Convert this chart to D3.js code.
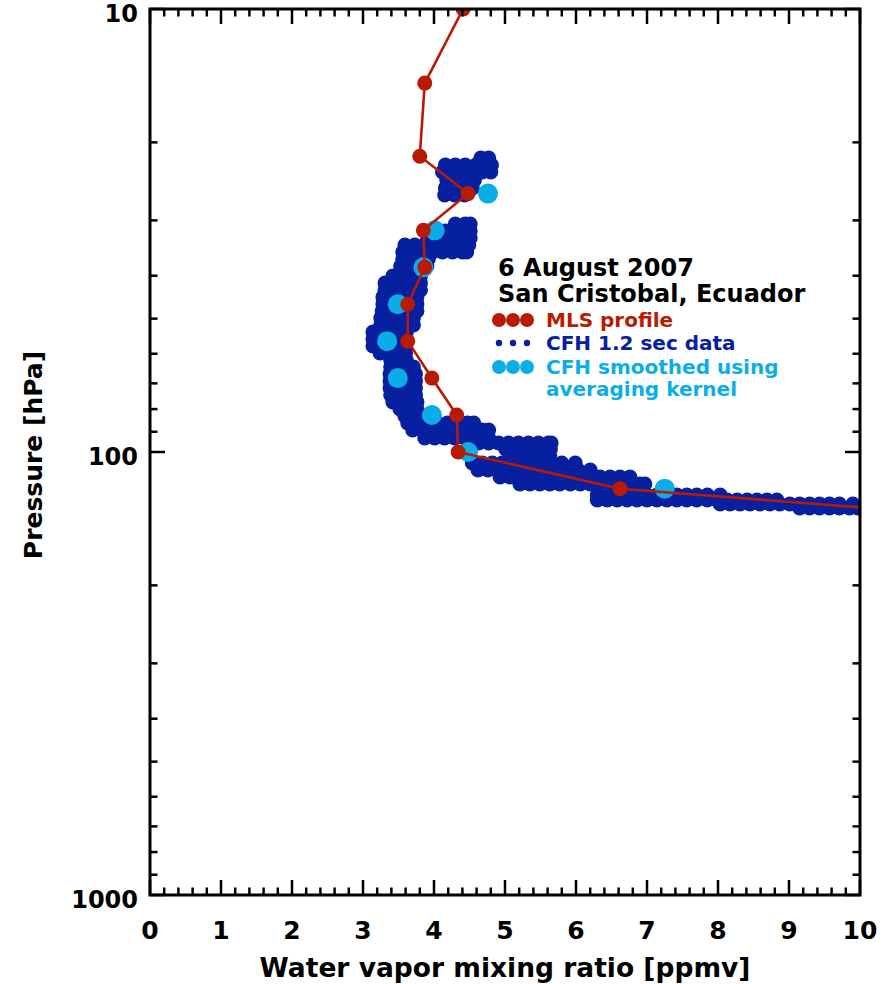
<!DOCTYPE html>
<html>
<head>
<meta charset="utf-8">
<script src="https://cdn.jsdelivr.net/npm/d3@7/dist/d3.min.js"></script>
<style>
  body { margin: 0; background: #fff; }
  text { font-family: "DejaVu Sans", sans-serif; font-weight: bold; }
</style>
</head>
<body>
<svg id="chart" width="891" height="984"></svg>
<script>
// Water vapour profile, 6 August 2007, San Cristobal (Ecuador)

// MLS retrieval levels (hPa) and mixing ratios (ppmv)
const mlsPressure = [10, 14.7, 21.5, 26.1, 31.6, 38.3, 46.4, 56.2, 68.1, 82.5, 100, 121, 147];
const mlsValue    = [4.41, 3.87, 3.80, 4.48, 3.85, 3.87, 3.63, 3.63, 3.97, 4.32, 4.34, 6.62, 13.4];

// CFH profile smoothed with the MLS averaging kernel
const smoothPressure = [26.1, 31.6, 38.3, 46.4, 56.2, 68.1, 82.5, 100, 121];
const smoothValue    = [4.76, 4.01, 3.85, 3.49, 3.34, 3.49, 3.97, 4.48, 7.25];

// CFH 1.2 s soundings: pressure (hPa) with the mixing ratios recorded near it
const cfhRows = [
  [21.70, [4.66, 4.77]],
  [22.50, [4.16, 4.30, 4.44, 4.59, 4.73, 4.81]],
  [23.33, [4.12, 4.26, 4.40, 4.54, 4.68, 4.80]],
  [24.32, [4.18, 4.32, 4.46, 4.57]],
  [25.36, [4.16, 4.30, 4.44, 4.54]],
  [26.30, [4.15, 4.29, 4.43]],
  [30.58, [4.30, 4.44, 4.51]],
  [31.70, [4.02, 4.16, 4.30, 4.44, 4.51]],
  [32.88, [3.91, 4.05, 4.19, 4.33, 4.47, 4.51]],
  [34.10, [3.59, 3.73, 3.87, 4.01, 4.15, 4.29, 4.43, 4.49]],
  [35.37, [3.56, 3.70, 3.84, 3.98, 4.12, 4.26, 4.40, 4.46]],
  [36.67, [3.56, 3.70, 3.84, 3.92]],
  [38.03, [3.53, 3.67, 3.81, 3.90]],
  [40.06, [3.42, 3.56, 3.70, 3.81]],
  [41.55, [3.31, 3.45, 3.59, 3.73, 3.81]],
  [43.09, [3.31, 3.45, 3.59, 3.73, 3.81]],
  [44.68, [3.28, 3.42, 3.56, 3.70, 3.76]],
  [46.34, [3.28, 3.42, 3.56, 3.70, 3.76]],
  [48.05, [3.27, 3.41, 3.55, 3.69, 3.76]],
  [49.83, [3.25, 3.39, 3.53, 3.67, 3.71]],
  [51.68, [3.25, 3.39, 3.53, 3.67, 3.71]],
  [53.59, [3.14, 3.28, 3.42, 3.56, 3.61]],
  [55.58, [3.14, 3.28, 3.42, 3.56, 3.61]],
  [57.64, [3.14, 3.28, 3.42, 3.56, 3.60]],
  [59.77, [3.24, 3.38, 3.52, 3.60]],
  [61.99, [3.39, 3.53, 3.61]],
  [64.29, [3.39, 3.53, 3.67, 3.71]],
  [66.67, [3.38, 3.52, 3.66, 3.74]],
  [69.14, [3.38, 3.52, 3.66, 3.74]],
  [71.70, [3.38, 3.52, 3.66, 3.74]],
  [74.35, [3.39, 3.53, 3.67, 3.74]],
  [77.11, [3.42, 3.56, 3.70, 3.76]],
  [79.97, [3.52, 3.66, 3.76]],
  [82.93, [3.59, 3.73, 3.78]],
  [86.00, [3.63, 3.77, 3.91, 4.05, 4.19, 4.33, 4.47, 4.56]],
  [89.19, [3.70, 3.84, 3.98, 4.12, 4.26, 4.40, 4.54, 4.68, 4.77]],
  [92.98, [3.87, 4.01, 4.15, 4.29, 4.43, 4.57, 4.71, 4.77]],
  [95.43, [4.63, 4.77, 4.91, 5.05, 5.19, 5.33, 5.47, 5.61, 5.65]],
  [98.44, [5.01, 5.15, 5.29, 5.43, 5.57, 5.64]],
  [101.7, [5.07, 5.21, 5.35, 5.49, 5.63]],
  [105.9, [4.54, 4.68, 4.82, 4.96, 5.10, 5.24, 5.38, 5.52, 5.66, 5.80, 5.99]],
  [109.8, [4.62, 4.76, 4.90, 5.04, 5.18, 5.32, 5.46, 5.61, 5.75, 5.89, 6.03, 6.20]],
  [113.9, [4.93, 5.07, 5.21, 5.35, 5.49, 5.63, 5.77, 5.92, 6.06, 6.20, 6.34, 6.48, 6.62, 6.76]],
  [118.1, [5.21, 5.35, 5.49, 5.63, 5.77, 5.92, 6.06, 6.20, 6.34, 6.48, 6.62, 6.76, 6.90, 6.97]],
  [125.1, [6.30, 6.44, 6.58, 6.72, 6.86, 7.00, 7.14, 7.28, 7.42, 7.56, 7.70, 7.85, 8.03]],
  [128.3, [6.30, 6.44, 6.58, 6.72, 6.86, 7.00, 7.14, 7.28, 7.42, 7.56, 7.70, 7.85, 7.99, 8.13, 8.27, 8.41, 8.55, 8.69, 8.83]],
  [131.0, [8.03, 8.17, 8.31, 8.45, 8.59, 8.73, 8.87, 9.01, 9.15, 9.29, 9.43, 9.57, 9.71, 9.90]],
  [133.8, [9.15, 9.29, 9.43, 9.57, 9.71, 9.85, 9.97]]
];

// Axis ticks
const xMajorTicks = [0, 1, 2, 3, 4, 5, 6, 7, 8, 9, 10];
const xMinorTicks = [0.2, 0.4, 0.6, 0.8, 1.2, 1.4, 1.6, 1.8, 2.2, 2.4, 2.6, 2.8, 3.2, 3.4, 3.6, 3.8,
                     4.2, 4.4, 4.6, 4.8, 5.2, 5.4, 5.6, 5.8, 6.2, 6.4, 6.6, 6.8, 7.2, 7.4, 7.6, 7.8,
                     8.2, 8.4, 8.6, 8.8, 9.2, 9.4, 9.6, 9.8];
const yMajorTicks = [10, 100, 1000];
const yTickLabels = ["10", "100", "1000"];
const yMinorTicks = [20, 30, 40, 50, 60, 70, 80, 90, 200, 300, 400, 500, 600, 700, 800, 900];

const titleLines = ["6 August 2007", "San Cristobal, Ecuador"];
const legendLabels = ["MLS profile", "CFH 1.2 sec data", "CFH smoothed using", "averaging kernel"];

const colMLS = "#b81a04";
const colCFH = "#0620a0";
const colSmooth = "#0bade9";

const plotLeft = 150, plotRight = 860, plotTop = 9, plotBottom = 895;
const x = d3.scaleLinear().domain([0, 10]).range([plotLeft, plotRight]);
const y = d3.scaleLog().domain([10, 1000]).range([plotTop, plotBottom]);

const svg = d3.select("#chart");

svg.append("defs").append("clipPath").attr("id", "plot-clip")
  .append("rect").attr("x", plotLeft).attr("y", plotTop)
  .attr("width", plotRight - plotLeft).attr("height", plotBottom - plotTop);

const plot = svg.append("g").attr("clip-path", "url(#plot-clip)");

// CFH raw data
const cfhPoints = cfhRows.flatMap(([p, vals]) => vals.map(v => ({ p, v })));
plot.append("g").selectAll("circle").data(cfhPoints).join("circle")
  .attr("cx", d => x(d.v)).attr("cy", d => y(d.p)).attr("r", 7.5)
  .attr("fill", colCFH);

// Smoothed CFH
plot.append("g").selectAll("circle").data(smoothPressure).join("circle")
  .attr("cx", (d, i) => x(smoothValue[i])).attr("cy", d => y(d)).attr("r", 10)
  .attr("fill", colSmooth);

// MLS profile
const mls = mlsPressure.map((p, i) => ({ p, v: mlsValue[i] }));
plot.append("path").datum(mls)
  .attr("d", d3.line().x(d => x(d.v)).y(d => y(d.p)))
  .attr("fill", "none").attr("stroke", colMLS).attr("stroke-width", 2.6);
plot.append("g").selectAll("circle").data(mls).join("circle")
  .attr("cx", d => x(d.v)).attr("cy", d => y(d.p)).attr("r", 7.5)
  .attr("fill", colMLS);

// Axes: frame with inward ticks on all four sides
const axes = svg.append("g").attr("stroke", "#000").attr("fill", "none");
function xTickMarks(values, len, width) {
  values.forEach(v => {
    const xx = x(v);
    axes.append("line").attr("x1", xx).attr("x2", xx).attr("y1", plotBottom).attr("y2", plotBottom - len).attr("stroke-width", width);
    axes.append("line").attr("x1", xx).attr("x2", xx).attr("y1", plotTop).attr("y2", plotTop + len).attr("stroke-width", width);
  });
}
xTickMarks(xMajorTicks, 15, 2.5);
xTickMarks(xMinorTicks, 7.5, 2.5);
function yTickMarks(values, len, width) {
  values.forEach(v => {
    const yy = y(v);
    axes.append("line").attr("y1", yy).attr("y2", yy).attr("x1", plotLeft).attr("x2", plotLeft + len).attr("stroke-width", width);
    axes.append("line").attr("y1", yy).attr("y2", yy).attr("x1", plotRight).attr("x2", plotRight - len).attr("stroke-width", width);
  });
}
yTickMarks(yMajorTicks, 15, 2.5);
yTickMarks(yMinorTicks, 7.5, 2.5);
axes.append("rect").attr("x", plotLeft).attr("y", plotTop)
  .attr("width", plotRight - plotLeft).attr("height", plotBottom - plotTop).attr("stroke-width", 3);

// Tick labels
svg.append("g").selectAll("text").data(xMajorTicks).join("text")
  .attr("x", d => x(d)).attr("y", 939).attr("text-anchor", "middle")
  .attr("font-size", 25).text(d => d);
svg.append("g").selectAll("text").data(yMajorTicks).join("text")
  .attr("x", 138).attr("y", d => y(d) + 13).attr("text-anchor", "end")
  .attr("font-size", 24).text((d, i) => yTickLabels[i]);

// Axis titles
svg.append("text").attr("x", 505).attr("y", 977).attr("text-anchor", "middle")
  .attr("font-size", 26.5).text("Water vapor mixing ratio [ppmv]");
svg.append("text").attr("transform", "translate(42,455) rotate(-90)")
  .attr("text-anchor", "middle").attr("font-size", 25).text("Pressure [hPa]");

// Title and legend
svg.append("g").selectAll("text").data(titleLines).join("text")
  .attr("x", 498).attr("y", (d, i) => 276 + i * 26).attr("font-size", 24).attr("fill", "#000")
  .text(d => d);

const legendY = [320, 343, 367];
const legendCol = [colMLS, colCFH, colSmooth];
const legendR = [7, 3.2, 7];
const leg = svg.append("g");
[0, 1, 2].forEach(k => {
  [499, 513, 527].forEach(cx => {
    leg.append("circle").attr("cx", cx).attr("cy", legendY[k]).attr("r", legendR[k]).attr("fill", legendCol[k]);
  });
});
leg.selectAll("text").data(legendLabels).join("text")
  .attr("x", 546).attr("y", (d, i) => [327, 350, 374, 396][i])
  .attr("font-size", 20)
  .attr("fill", (d, i) => [colMLS, colCFH, colSmooth, colSmooth][i])
  .text(d => d);
</script>
</body>
</html>
